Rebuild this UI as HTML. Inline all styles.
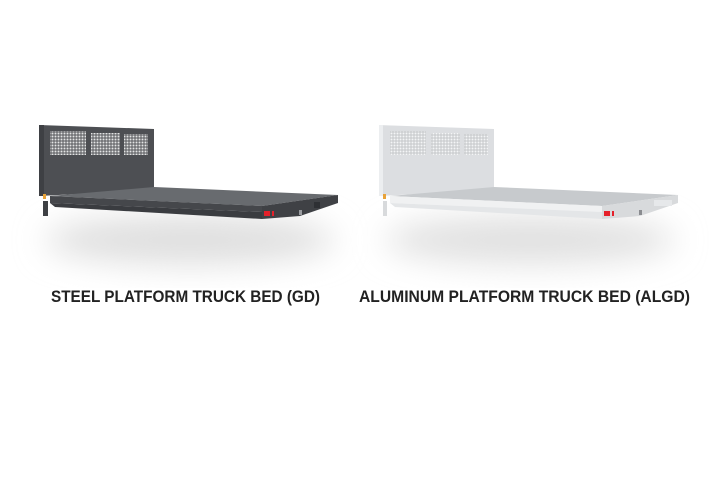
<!DOCTYPE html>
<html><head><meta charset="utf-8"><style>
html,body{margin:0;padding:0;background:#fff;width:720px;height:480px;overflow:hidden}
</style></head><body>
<svg width="720" height="480" viewBox="0 0 720 480" xmlns="http://www.w3.org/2000/svg">
<defs>
<filter id="b" x="-50%" y="-50%" width="200%" height="200%"><feGaussianBlur stdDeviation="16"/></filter>
<pattern id="m1" width="3" height="3" patternUnits="userSpaceOnUse"><rect width="3" height="3" fill="#55575b"/><rect x="0.5" y="0.5" width="2" height="2" fill="#e4e4e4"/></pattern>
<pattern id="m2" width="3" height="3" patternUnits="userSpaceOnUse"><rect width="3" height="3" fill="#c4c6c9"/><rect x="0.5" y="0.5" width="2" height="2" fill="#f4f5f6"/></pattern>
</defs>
<ellipse cx="190" cy="240" rx="145" ry="24" fill="#dedede" filter="url(#b)"/>
<ellipse cx="530" cy="240" rx="145" ry="24" fill="#e0e0e0" filter="url(#b)"/>

<g id="steel">
<polygon points="39,125 154,129 154,190 39,196" fill="#4d4f53"/>
<polygon points="39,125 44,125 44,196 39,196" fill="#3e4044"/>
<rect x="50" y="131" width="36" height="24" fill="url(#m1)"/>
<rect x="91" y="133" width="29" height="22" fill="url(#m1)"/>
<rect x="124" y="134" width="24" height="21" fill="url(#m1)"/>
<polygon points="50,196 154,187 338,195 262,206" fill="#686b6f"/>
<polygon points="50,196 262,206 262,212 50,203" fill="#45474b"/>
<polygon points="262,206 338,195 338,203 300,216 262,219" fill="#3f4145"/>
<polygon points="50,203 262,212 262,219 55,207" fill="#3a3c40"/>
<rect x="43" y="201" width="5" height="15" fill="#3e4044"/>
<rect x="43" y="194" width="3" height="5" fill="#e8a33a"/>
<rect x="264" y="211" width="6" height="5" fill="#e5202a"/>
<rect x="272" y="211" width="2" height="5" fill="#e5202a"/>
<rect x="299" y="210" width="3" height="5" fill="#9a9ca0"/>
<rect x="314" y="202" width="6" height="6" fill="#2e3034"/>
</g>

<g id="alu">
<polygon points="379,125 494,129 494,190 379,196" fill="#dcdee1"/>
<polygon points="379,125 383,125 383,196 379,196" fill="#eceef0"/>
<rect x="390" y="131" width="36" height="24" fill="url(#m2)"/>
<rect x="431" y="133" width="29" height="22" fill="url(#m2)"/>
<rect x="464" y="134" width="24" height="21" fill="url(#m2)"/>
<polygon points="390,196 494,187 678,195 602,206" fill="#c7cacd"/>
<polygon points="390,196 602,206 602,212 390,203" fill="#f0f1f2"/>
<polygon points="602,206 678,195 678,203 640,216 602,219" fill="#d8dadc"/>
<polygon points="390,203 602,212 602,219 395,207" fill="#e4e6e8"/>
<rect x="383" y="201" width="4" height="15" fill="#d8dadc"/>
<rect x="383" y="194" width="3" height="5" fill="#e8a33a"/>
<rect x="604" y="211" width="6" height="5" fill="#e5202a"/>
<rect x="612" y="211" width="2" height="5" fill="#e5202a"/>
<rect x="639" y="210" width="3" height="5" fill="#8a8c90"/>
<rect x="654" y="200" width="18" height="6" fill="#e6e8ea"/>
</g>

<text x="51" y="302" font-family="Liberation Sans, sans-serif" font-size="16.5" font-weight="bold" fill="#222" textLength="269" lengthAdjust="spacingAndGlyphs">STEEL PLATFORM TRUCK BED (GD)</text>
<text x="359" y="302" font-family="Liberation Sans, sans-serif" font-size="16.5" font-weight="bold" fill="#222" textLength="331" lengthAdjust="spacingAndGlyphs">ALUMINUM PLATFORM TRUCK BED (ALGD)</text>
</svg>
</body></html>
